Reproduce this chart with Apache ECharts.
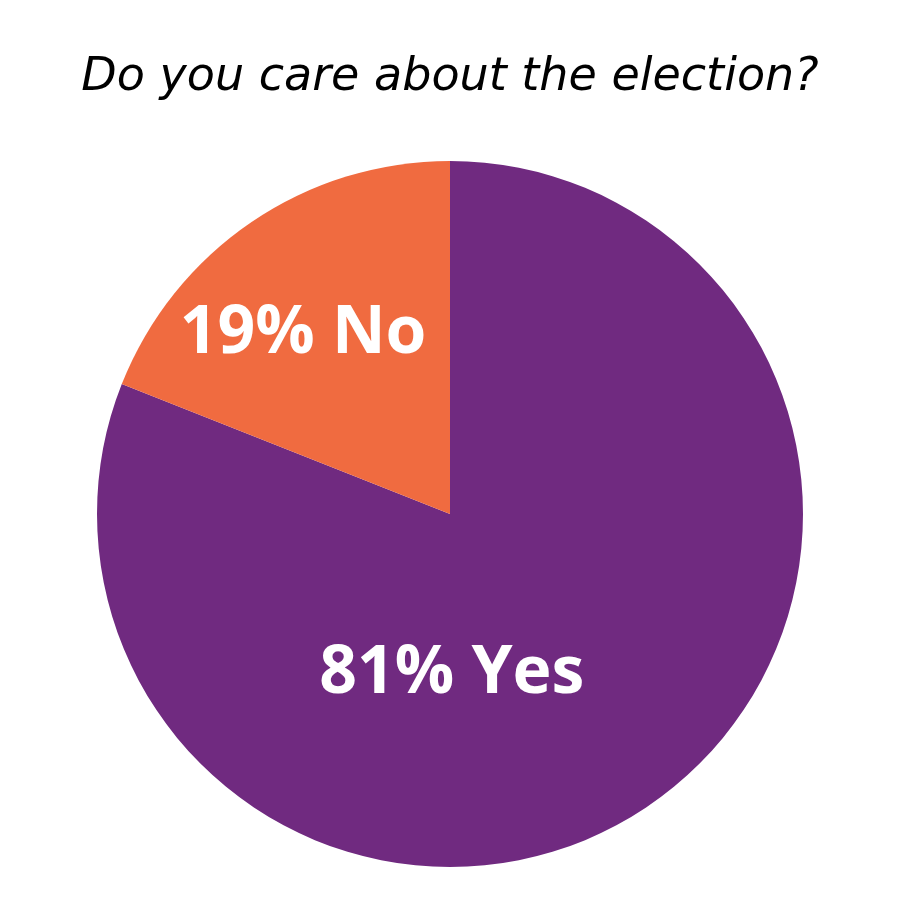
<!DOCTYPE html>
<html><head><meta charset="utf-8">
<script src="https://cdn.jsdelivr.net/npm/echarts@6/dist/echarts.min.js"></script>
<style>html,body{margin:0;background:#fff}#c{width:900px;height:900px}</style>
</head><body><div id="c"></div>
<script>
const categories = ['Yes', 'No'];
const values = [81, 19];
const labels = ['81% Yes', '19% No'];
const colors = ['#702a80', '#f06b40'];
const offsets = [[-99, 12], [-46, -31]];
const chart = echarts.init(document.getElementById('c'));
chart.setOption({
  title: { text: 'Do you care about the election?', left: 'center', top: 50,
    textStyle: { fontFamily: 'DejaVu Sans', fontStyle: 'italic', fontWeight: 'normal', fontSize: 46, color: '#000' } },
  series: [{
    type: 'pie', center: [450, 514], radius: 353, startAngle: 90, clockwise: true,
    silent: true,
    label: { show: true, position: 'inner', color: '#fff', fontSize: 66, fontWeight: 'bold', fontFamily: 'Open Sans' },
    labelLine: { show: false },
    data: categories.map((c, i) => ({ name: c, value: values[i], itemStyle: { color: colors[i] },
      label: { formatter: labels[i], offset: offsets[i] } }))
  }]
});
</script></body></html>
